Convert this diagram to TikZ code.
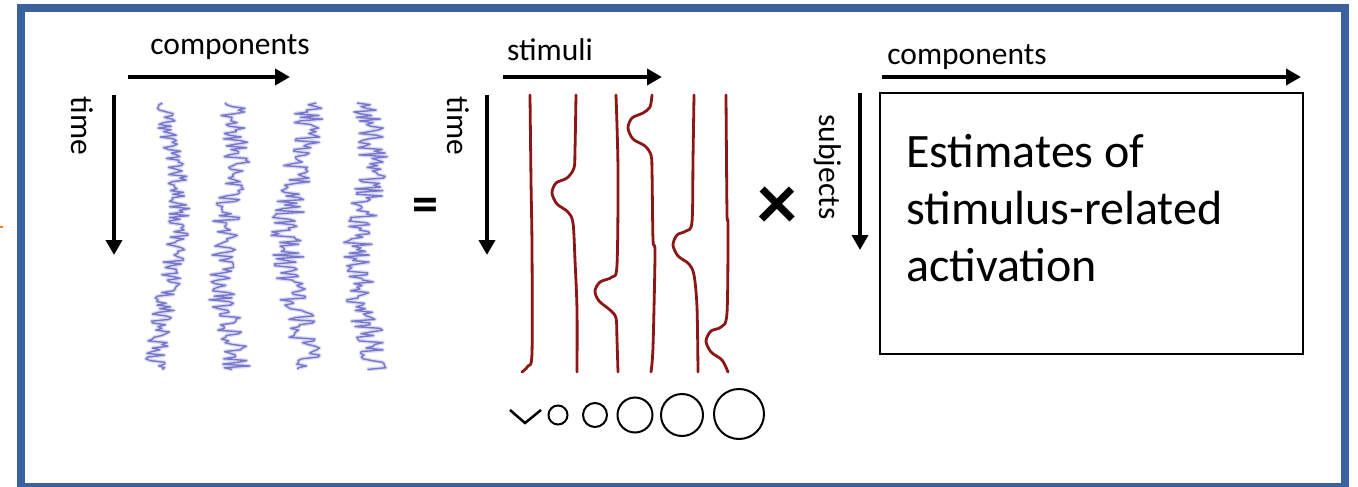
\documentclass[tikz,border=0pt]{standalone}
\usepackage{fontspec}
\setmainfont{Carlito}
\usetikzlibrary{arrows.meta}
\definecolor{frameblue}{RGB}{58,98,158}
\definecolor{stimred}{RGB}{140,22,22}
\definecolor{tracecol}{RGB}{95,95,195}
\definecolor{tracehalo}{RGB}{165,165,225}
\begin{document}
\begin{tikzpicture}[x=1pt,y=-1pt,
  axarrow/.style={line width=4.5pt,-{Triangle[length=15pt,width=16pt]}},
  lbl/.style={font=\fontsize{31.5}{34}\selectfont, inner sep=0pt},
  bigtxt/.style={font=\fontsize{48}{56}\selectfont, inner sep=0pt},
  stim/.style={stimred, line width=2.8pt, line join=round, line cap=round},
  halo/.style={tracehalo, line width=4pt, opacity=0.4, line join=round},
  core/.style={tracecol, line width=1.4pt, opacity=0.8, line join=round},
  ring/.style={line width=2pt}]
\useasboundingbox (0,0) rectangle (1358,487);
\fill[white] (0,0) rectangle (1358,487);
\draw[frameblue, line width=8pt] (21,8) rectangle (1345,487);
\draw[orange, line width=1.5pt] (0,227) -- (3,227);

% labels
\node[lbl, anchor=base] (compL) at (230,55) {components};
\node[lbl, anchor=base] (stimL) at (550,61) {stimuli};
\node[lbl, anchor=base] (compR) at (967,65) {components};
\node[lbl, rotate=-90] (time1) at (82,126) {time};
\node[lbl, rotate=-90] (time2) at (458,126) {time};
\node[lbl, rotate=-90] (subj) at (828,167) {subjects};

% arrows
\coordinate (a1s) at (128,77); \coordinate (a1e) at (290,77);
\coordinate (a2s) at (114,95); \coordinate (a2e) at (114,255);
\coordinate (a3s) at (503,77); \coordinate (a3e) at (662,77);
\coordinate (a4s) at (487,95); \coordinate (a4e) at (487,255);
\coordinate (a5s) at (882,77); \coordinate (a5e) at (1301,77);
\coordinate (a6s) at (860,93); \coordinate (a6e) at (860,250);
\draw[axarrow] (a1s) -- (a1e);
\draw[axarrow] (a2s) -- (a2e);
\draw[axarrow] (a3s) -- (a3e);
\draw[axarrow] (a4s) -- (a4e);
\draw[axarrow] (a5s) -- (a5e);
\draw[axarrow] (a6s) -- (a6e);

% blue component traces
\pgfmathsetseed{11}
\draw[halo] plot[samples=150, domain=0:1, variable=\t] ({168+12*sin(\t*300-30)+11*rand},{103+267*\t});
\pgfmathsetseed{11}
\draw[core] plot[samples=150, domain=0:1, variable=\t] ({168+12*sin(\t*300-30)+11*rand},{103+267*\t});
\pgfmathsetseed{23}
\draw[halo] plot[samples=150, domain=0:1, variable=\t] ({229+9*sin(\t*400+20)+14*rand},{103+267*\t});
\pgfmathsetseed{23}
\draw[core] plot[samples=150, domain=0:1, variable=\t] ({229+9*sin(\t*400+20)+14*rand},{103+267*\t});
\pgfmathsetseed{37}
\draw[halo] plot[samples=150, domain=0:1, variable=\t] ({298+11*sin(\t*350+90)+16*rand},{103+267*\t});
\pgfmathsetseed{37}
\draw[core] plot[samples=150, domain=0:1, variable=\t] ({298+11*sin(\t*350+90)+16*rand},{103+267*\t});
\pgfmathsetseed{51}
\draw[halo] plot[samples=150, domain=0:1, variable=\t] ({365+8*sin(\t*450)+15*rand},{103+267*\t});
\pgfmathsetseed{51}
\draw[core] plot[samples=150, domain=0:1, variable=\t] ({365+8*sin(\t*450)+15*rand},{103+267*\t});

% operators
\node[font=\bfseries\fontsize{52}{52}\selectfont, inner sep=0pt] (eq) at (425,210) {=};
\node[font=\bfseries\fontsize{80}{80}\selectfont, inner sep=0pt] (times) at (777,208) {×};

% red stimulus lines
\draw[stim] plot[smooth, tension=0.5] coordinates {(530,95) (531,180) (532,247) (532,353) (528,366) (522,372)};
\draw[stim] plot[smooth, tension=0.5] coordinates {(576,95) (575,150) (574,168) (567,178) (556,183) (552,193) (557,204) (568,212) (573,223) (575,260) (577,310) (577,372)};
\draw[stim] plot[smooth, tension=0.5] coordinates {(616,95) (618,170) (617,265) (612,277) (600,282) (595,291) (599,301) (610,310) (616,318) (617,340) (618,372)};
\draw[stim] plot[smooth, tension=0.5] coordinates {(652,95) (650,107) (643,113) (632,118) (628,128) (633,139) (645,146) (651,155) (652,170) (653,240) (655,253) (653,347) (651,372)};
\draw[stim] plot[smooth, tension=0.5] coordinates {(694,95) (693,160) (692,222) (686,231) (677,235) (673,245) (678,256) (689,264) (694,275) (697,307) (698,372)};
\draw[stim] plot[smooth, tension=0.5] coordinates {(726,95) (727,213) (728,225) (727,313) (721,327) (711,331) (706,341) (711,352) (722,360) (728,372)};

% magnitude glyphs
\draw[line width=2.5pt, line join=miter] (510,410) -- (525,423) -- (541,410);
\draw[ring] (558,415) circle[radius=9.5pt];
\draw[ring] (595,415) circle[radius=12pt];
\draw[ring] (635,415) circle[radius=17.5pt];
\draw[ring] (682,415) circle[radius=21pt];
\draw[ring] (739,414) circle[radius=25pt];

% estimates box
\node[draw, line width=2pt, minimum width=423pt, minimum height=261pt, anchor=north west, inner sep=0pt] (box) at (879,92) {};
\node[bigtxt, anchor=base west] (est1) at (906,167) {Estimates of};
\node[bigtxt, anchor=base west] (est2) at (906,224) {stimulus-related};
\node[bigtxt, anchor=base west] (est3) at (906,281) {activation};
\end{tikzpicture}
\end{document}
